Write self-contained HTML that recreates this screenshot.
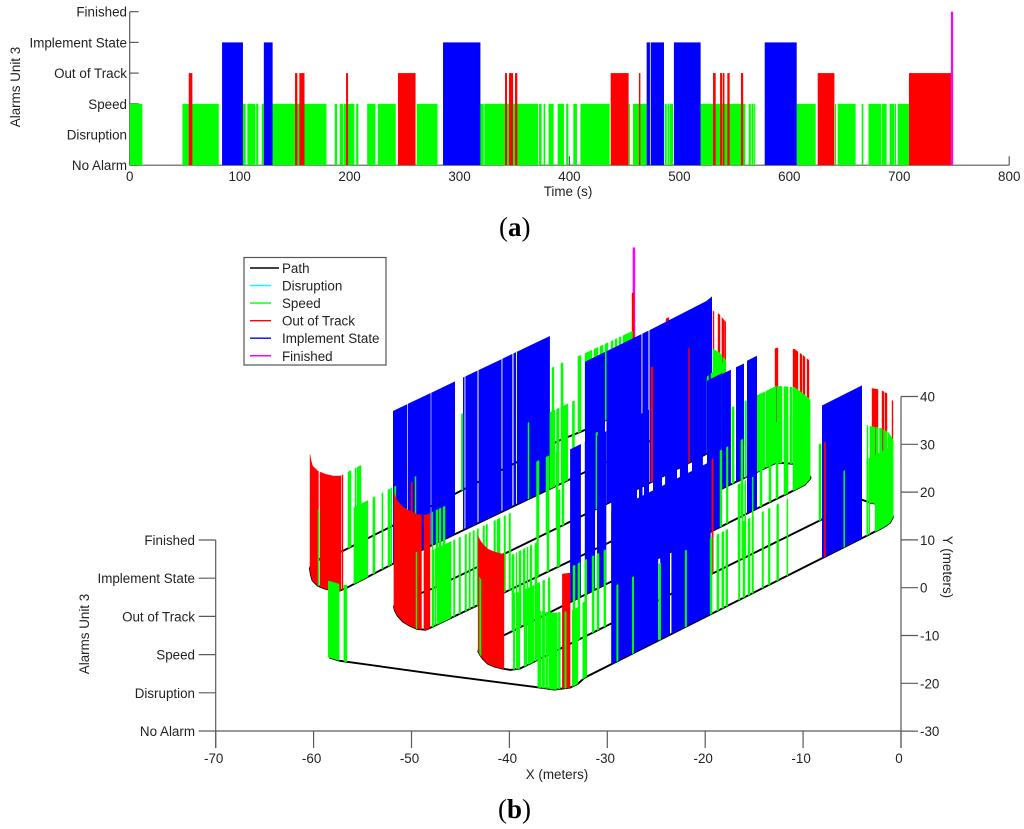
<!DOCTYPE html>
<html lang="en">
<head>
<meta charset="utf-8">
<title>Alarms Unit 3</title>
<style>
html,body{margin:0;padding:0;background:#fff;width:1024px;height:829px;overflow:hidden}
svg{display:block;filter:blur(.35px)}
text{font-family:"Liberation Sans",sans-serif;font-size:13.4px;fill:#222}
.cap{font-family:"Liberation Serif",serif;font-size:27px;fill:#000}
</style>
</head>
<body>
<svg id="fig" xmlns="http://www.w3.org/2000/svg" width="1024" height="829" viewBox="0 0 1024 829">
<g id="chartA"></g>
<text class="cap" x="499" y="236">(<tspan font-weight="bold">a</tspan>)</text>
<g id="chartB"></g>
<text class="cap" x="498" y="818">(<tspan font-weight="bold">b</tspan>)</text>
</svg>
<script>
/* ---------- chart (a): alarm intervals in seconds ---------- */
const levelLabels = ["No Alarm","Disruption","Speed","Out of Track","Implement State","Finished"];
const timeTicks = [0,100,200,300,400,500,600,700,800];
const speedIntervals = [[0,11.5],[48,81],[103,105.5],[107,114.3],[115,117],[120,122],[130,179],[186.5,188.6],[191,194],[194.7,204.4],[206,208],[216,223.5],[225.6,242],[261,280],[319,322],[322.6,371.4],[372.3,374.7],[376.5,378],[381,385.6],[389.3,395],[397,399],[403.5,406.8],[410,436.6],[454,455],[457.8,470.2],[486.6,488.5],[489.2,490.5],[491,494.2],[519.3,560],[563,565],[565.6,567.5],[568,569],[606.7,624],[641.5,642.5],[644,660.3],[665.8,667.3],[672,683.4],[684,688.5],[691.2,695.5],[696,697],[698.5,708.8]];
const outOfTrackIntervals = [[53.7,57],[150.4,152.5],[154.3,159],[196.8,198.6],[244,260],[341.4,343.2],[345,348.7],[350.5,352.6],[437.5,453.8],[463.2,464.5],[530.6,533],[537,539],[539.6,541],[543.6,545.7],[556,558],[625.8,641],[708.8,747]];
const implementIntervals = [[84,103],[122,130],[285,319],[470.2,473.2],[473.9,486],[495,519.3],[577.6,606.7]];
const finishedIntervals = [[747,749]];

/* ---------- chart (b): path polylines [X m, Y m] ---------- */
const xTicksB = [-70,-60,-50,-40,-30,-20,-10,0];
const yTicksB = [-30,-20,-10,0,10,20,30,40];
const pathA = [[-58.4,-14.6],[-57.3,-15.3],[-47.1,-18.2],[-36.9,-20.9],[-35.4,-21.3],[-33.8,-20.9],[-33.0,-20.1],[-32.3,-18.8],[-2.1,12.3],[-1.53,13.0],[-1.12,13.6],[-0.8,14.9]];
const pathB = [[-43.2,-13.2],[-43.0,-14.0],[-42.7,-14.9],[-42.2,-15.9],[-41.5,-16.5],[-40.76,-16.9],[-39.9,-17.2],[-38.9,-16.9],[-4.0,18.4],[-3.2,17.8],[-2.1,17.4],[-1.3,16.5],[-0.8,14.9]];
const pathC = [[-43.2,-13.2],[-42.8,-11.9],[-42.0,-11.3],[-40.2,-9.6],[-13.7,17.6],[-11.4,19.9],[-9.85,21.5],[-9.2,23.0]];
const pathD = [[-51.8,-3.8],[-51.7,-4.8],[-51.4,-5.9],[-50.87,-7.1],[-50.2,-7.9],[-49.44,-8.6],[-48.6,-8.8],[-48.1,-8.4],[-13.4,25.5],[-12.7,26.2],[-10.85,25.9],[-9.5,23.8],[-9.2,23.0]];
const pathE = [[-51.8,-3.8],[-51.2,-2.3],[-50.2,-2.1],[-47.9,-0.2],[-44.7,2.9],[-25.6,22.0],[-19.9,28.0],[-19.0,29.5],[-17.9,31.6]];
const pathF = [[-60.4,4.2],[-60.27,2.7],[-60.1,1.5],[-59.55,0.4],[-58.8,-0.2],[-58.0,-0.6],[-57.3,-0.6],[-56.6,0],[-51.9,5.0],[-20.0,36.2],[-19.2,33.9],[-18.6,33.3],[-17.9,31.6]];
const pathG = [[-60.4,4.2],[-59.3,6.1],[-57.0,7.7],[-51.9,13.0],[-34.9,30.8],[-32.5,32.8],[-27.2,37.9]];
const pathH = [[-27.5,31.2],[-27.1,31.2]];

/* alarm spans along each pass: [from X m, to X m] */
const passABlue = [[-29.6,-24.8],[-24.6,-23.6],[-23.45,-19.45],[-8.07,-3.98]];
const passARed = [[-34.6,-33.8],[-7.85,-7.7]];
const passAGreen = [[-58.5,-57.4],[-56.9,-56.6],[-37.1,-36.8],[-36.7,-36.4],[-36.3,-36.1],[-36.0,-35.1],[-35.0,-34.8],[-34.35,-34.2],[-33.6,-33.0],[-32.5,-32.1],[-29.05,-28.9],[-27.45,-27.3],[-24.75,-24.55],[-22.05,-21.9],[-19.5,-19.3],[-18.8,-18.6],[-18.3,-18.1],[-17.9,-17.7],[-16.6,-16.45],[-16.14,-15.94],[-15.63,-15.42],[-15.22,-15.07],[-14.2,-14.05],[-13.54,-13.38],[-12.7,-12.5],[-11.65,-11.55],[-5.85,-5.75],[-3.5,-3.4],[-3.3,-3.2],[-2.65,-0.8]];

const passBBlue = [];
const passBRed = [[-43.2,-40.55],[-19.33,-19.17],[-2.96,-2.35],[-1.94,-1.74],[-1.63,-1.43],[-0.92,-0.82]];
const passBGreen = [[-43.05,-42.9],[-39.6,-39.45],[-39.3,-39.15],[-39.1,-38.95],[-38.5,-38.2],[-38.1,-37.5],[-37.4,-36.9],[-36.6,-36.4],[-36.05,-35.85],[-33.5,-33.3],[-33.0,-32.8],[-32.3,-32.1],[-31.55,-31.35],[-31.05,-30.85],[-30.35,-30.15],[-16.65,-16.45],[-16.25,-16.15],[-15.95,-15.85],[-15.2,-15.1],[-8.38,-8.17],[-3.47,-3.37],[-3.17,-2.66],[-2.55,-2.35],[-2.2,-1.94],[-1.79,-1.43],[-1.33,-0.82]];

const passCBlue = [[-33.8,-32.7],[-32.3,-31.25],[-31.05,-30.1],[-29.6,-26.97],[-26.76,-26.4],[-26.25,-25.74],[-25.33,-24.41],[-24.1,-22.88],[-22.58,-21.76],[-21.35,-20.23],[-19.82,-18.29],[-15.73,-14.71]];
const passCRed = [];
const passCGreen = [[-39.74,-39.53],[-39.33,-39.23],[-39.02,-38.82],[-38.6,-38.4],[-38.2,-38.1],[-37.9,-37.7],[-37.4,-37.2],[-18.49,-18.29],[-17.83,-17.67],[-16.35,-16.14],[-14.4,-14.2],[-13.48,-13.28],[-12.77,-12.56],[-11.95,-11.54],[-11.03,-9.3]];

const passDBlue = [];
const passDBlueLow = [[-18.29,-17.37],[-16.85,-16.04]];
const passDRed = [[-51.8,-48.98],[-48.73,-48.11],[-12.87,-12.56],[-11.03,-10.52],[-10.32,-10.11],[-10.01,-9.81],[-9.6,-9.4]];
const passDGreen = [[-49.54,-49.44],[-47.91,-47.7],[-47.6,-47.5],[-47.4,-45.97],[-45.71,-45.56],[-45.15,-45.0],[-44.54,-44.38],[-44.13,-43.98],[-43.72,-43.57],[-43.31,-43.16],[-42.7,-42.54],[-42.39,-42.24],[-41.58,-41.42],[-41.27,-40.96],[-40.55,-40.4],[-40.04,-39.89],[-37.18,-37.03],[-36.16,-35.96],[-35.14,-34.83],[-17.26,-17.06],[-15.94,-15.78],[-14.71,-13.89],[-13.79,-12.77],[-12.67,-12.16],[-11.95,-11.54],[-11.34,-11.13],[-11.03,-9.3]];

const passEBlue = [[-32.28,-30.24],[-30.08,-26.51],[-26.41,-25.79],[-25.69,-19.31]];
const passERed = [[-50.05,-49.9],[-25.54,-25.33],[-21.71,-21.6]];
const passEGreen = [[-47.91,-47.81],[-47.5,-47.3],[-47.19,-46.99],[-46.78,-46.58],[-37.23,-36.98],[-36.26,-35.96],[-35.24,-35.04],[-34.63,-34.42],[-31.16,-31.0],[-19.82,-19.66],[-19.41,-19.2],[-18.8,-18.6],[-18.29,-18.18]];

const passFBlue = [[-51.89,-50.43],[-50.36,-48.04],[-47.98,-45.56],[-44.74,-44.59],[-44.49,-43.26],[-43.16,-40.81],[-40.71,-39.69],[-39.58,-39.33],[-39.23,-35.86]];
const passFRed = [[-60.37,-59.5],[-59.35,-57.2],[-57.1,-57.0],[-24.0,-23.7],[-19.2,-19.1],[-18.69,-18.49],[-18.29,-18.08],[-18.03,-17.9]];
const passFGreen = [[-59.55,-59.45],[-55.88,-54.45],[-53.94,-53.73],[-53.02,-52.91],[-52.4,-52.2],[-52.1,-52.0],[-51.74,-51.59],[-49.64,-49.54],[-38.1,-38.0],[-35.86,-35.34],[-35.19,-34.93],[-34.73,-34.02],[-33.56,-33.35],[-19.2,-18.74],[-18.69,-18.29],[-18.18,-17.9]];

const passGBlue = [];
const passGRed = [[-27.48,-27.27]];
const passGGreen = [[-56.49,-56.18],[-55.77,-55.67],[-55.57,-55.16],[-44.9,-44.74],[-35.65,-35.45],[-34.73,-34.53],[-32.99,-32.69],[-32.28,-31.56],[-31.36,-30.95],[-30.75,-30.44],[-30.24,-29.93],[-29.62,-29.42],[-29.21,-29.01],[-28.81,-28.6],[-28.4,-27.43]];

const finishSpans = [[-27.38,-27.17]];

const legendNames = ["Path","Disruption","Speed","Out of Track","Implement State","Finished"];
const legendColors = ["#000","#00ffff","#00ff00","#ff0000","#0000ff","#ff00ff"];

const NS = "http://www.w3.org/2000/svg";
const AXIS = "#5a5a5a";
const chartA = document.getElementById("chartA");
const chartB = document.getElementById("chartB");

function mk(parent, tag, attrs) {
  const el = document.createElementNS(NS, tag);
  for (const k in attrs) el.setAttribute(k, attrs[k]);
  parent.appendChild(el);
  return el;
}
function label(parent, str, x, y, anchor, name, transform) {
  const t = mk(parent, "text", {x: x, y: y, "text-anchor": anchor});
  if (transform) t.setAttribute("transform", transform);
  
  
  t.textContent = str;
  return t;
}
function rule(parent, x1, y1, x2, y2, name, color, w) {
  const l = mk(parent, "line", {x1: x1, y1: y1, x2: x2, y2: y2, stroke: color || AXIS, "stroke-width": w || 1.2});
  
  
  return l;
}

/* ----- chart (a) axes ----- */
const xA = t => 129.7 + t * 1.0994;
const yA = l => 165.2 - l * 30.7;

rule(chartA, xA(0), yA(0), xA(800), yA(0), "time-axis-line");
rule(chartA, xA(0), yA(0), xA(0), yA(5), "alarm-axis-line");
timeTicks.forEach(t => {
  rule(chartA, xA(t), yA(0), xA(t), yA(0) - 9, "time-tick");
  label(chartA, String(t), xA(t), 181, "middle", "time-tick-label");
});
levelLabels.forEach((s, i) => {
  rule(chartA, xA(0), yA(i), xA(0) + 9, yA(i), "alarm-tick");
  label(chartA, s, 127, yA(i) + 5, "end", "alarm-tick-label");
});
label(chartA, "Time (s)", 568, 196, "middle", "time-axis-title");
label(chartA, "Alarms Unit 3", 20, 87, "middle", "alarm-axis-title", "rotate(-90 20 87)");

function drawIntervals(list, level, color, name) {
  list.forEach(iv => {
    const r = mk(chartA, "rect", {x: xA(iv[0]), y: yA(level), width: xA(iv[1]) - xA(iv[0]), height: yA(0) - yA(level), fill: color});
    
    
  });
}
drawIntervals(speedIntervals, 2, "#00ff00", "speed-interval");
drawIntervals(outOfTrackIntervals, 3, "#ff0000", "out-of-track-interval");
drawIntervals(implementIntervals, 4, "#0000ff", "implement-state-interval");
drawIntervals(finishedIntervals, 5, "#ff00ff", "finished-interval");

/* ----- chart (b) axes ----- */
const xB = x => 901 + x * 9.79;
const yB = y => 587.7 - y * 4.78;
const zStep = 38.2;
const baseY = 731;
const zB = l => baseY - l * zStep;

rule(chartB, xB(-70), baseY, xB(0), baseY, "x-axis-line");
rule(chartB, xB(0), yB(40), xB(0), baseY + 17, "y-axis-line");
rule(chartB, xB(-70), zB(5), xB(-70), baseY + 17, "alarm-z-axis-line");
xTicksB.forEach(x => {
  rule(chartB, xB(x), baseY, xB(x), baseY + 17, "x-tick");
  label(chartB, String(x), xB(x) - 2, 763, "middle", "x-tick-label");
});
yTicksB.forEach(y => {
  rule(chartB, xB(0), yB(y), xB(0) + 17, yB(y), "y-tick");
  label(chartB, String(y), xB(0) + 19, yB(y) + 5, "start", "y-tick-label");
});
levelLabels.forEach((s, i) => {
  rule(chartB, xB(-70) - 17, zB(i), xB(-70), zB(i), "alarm-z-tick");
  label(chartB, s, 195, zB(i) + 5, "end", "alarm-z-tick-label");
});
label(chartB, "X (meters)", 557, 779, "middle", "x-axis-title");
label(chartB, "Y (meters)", 943, 567, "middle", "y-axis-title", "rotate(90 943 567)");
label(chartB, "Alarms Unit 3", 89, 634, "middle", "alarm-z-axis-title", "rotate(-90 89 634)");

/* ----- chart (b) marks ----- */
function yOnPath(path, X) {
  if (X <= path[0][0]) return path[0][1];
  for (let i = 1; i < path.length; i++) {
    if (X <= path[i][0]) {
      const f = (X - path[i-1][0]) / (path[i][0] - path[i-1][0]);
      return path[i-1][1] + f * (path[i][1] - path[i-1][1]);
    }
  }
  return path[path.length - 1][1];
}
function drawSpans(parent, path, spans, level, color, name, thicken) {
  spans.forEach(s => {
    const xs = [s[0]];
    path.forEach(p => { if (p[0] > s[0] && p[0] < s[1]) xs.push(p[0]); });
    xs.push(s[1]);
    const tops = xs.map(X => xB(X).toFixed(1) + "," + (yB(yOnPath(path, X)) - level * zStep).toFixed(1));
    const bases = xs.slice().reverse().map(X => xB(X).toFixed(1) + "," + yB(yOnPath(path, X)).toFixed(1));
    const poly = mk(parent, "polygon", {points: tops.concat(bases).join(" "), fill: color});
    if (thicken) { poly.setAttribute("stroke", color); poly.setAttribute("stroke-width", thicken); }
    
    
  });
}
function drawPath(parent, path) {
  const pl = mk(parent, "polyline", {
    points: path.map(p => xB(p[0]).toFixed(1) + "," + yB(p[1]).toFixed(1)).join(" "),
    fill: "none", stroke: "#000", "stroke-width": 1.9
  });
  
  
}
const passes = [
  [pathG, passGBlue, passGRed, passGGreen],
  [pathF, passFBlue, passFRed, passFGreen],
  [pathE, passEBlue, passERed, passEGreen],
  [pathD, passDBlue, passDRed, passDGreen, passDBlueLow],
  [pathC, passCBlue, passCRed, passCGreen],
  [pathB, passBBlue, passBRed, passBGreen],
  [pathA, passABlue, passARed, passAGreen]
];
drawSpans(chartB, pathH, finishSpans, 5, "#ff00ff", "finished-alarm-bar", 0.4);
passes.forEach(p => {
  drawPath(chartB, p[0]);
  drawSpans(chartB, p[0], p[1], 4, "#0000ff", "implement-state-alarm-bar");
  if (p[4]) drawSpans(chartB, p[0], p[4], 3, "#0000ff", "implement-state-alarm-bar");
  drawSpans(chartB, p[0], p[2], 3, "#ff0000", "out-of-track-alarm-bar", 0.4);
  drawSpans(chartB, p[0], p[3], 2, "#00ff00", "speed-alarm-bar", 0.5);
});

/* ----- legend ----- */
const legend = mk(chartB, "g", {});


const legendBox = mk(legend, "rect", {x: 244, y: 257.5, width: 142, height: 107.5, fill: "#fff", stroke: "#555", "stroke-width": 1.2});


legendNames.forEach((s, i) => {
  const y = 268 + i * 17.55;
  rule(legend, 250, y, i === 0 ? 279 : 271, y, "legend-swatch", legendColors[i], 1.4);
  label(legend, s, 282, y + 5, "start", "legend-entry");
});
</script>
</body>
</html>
